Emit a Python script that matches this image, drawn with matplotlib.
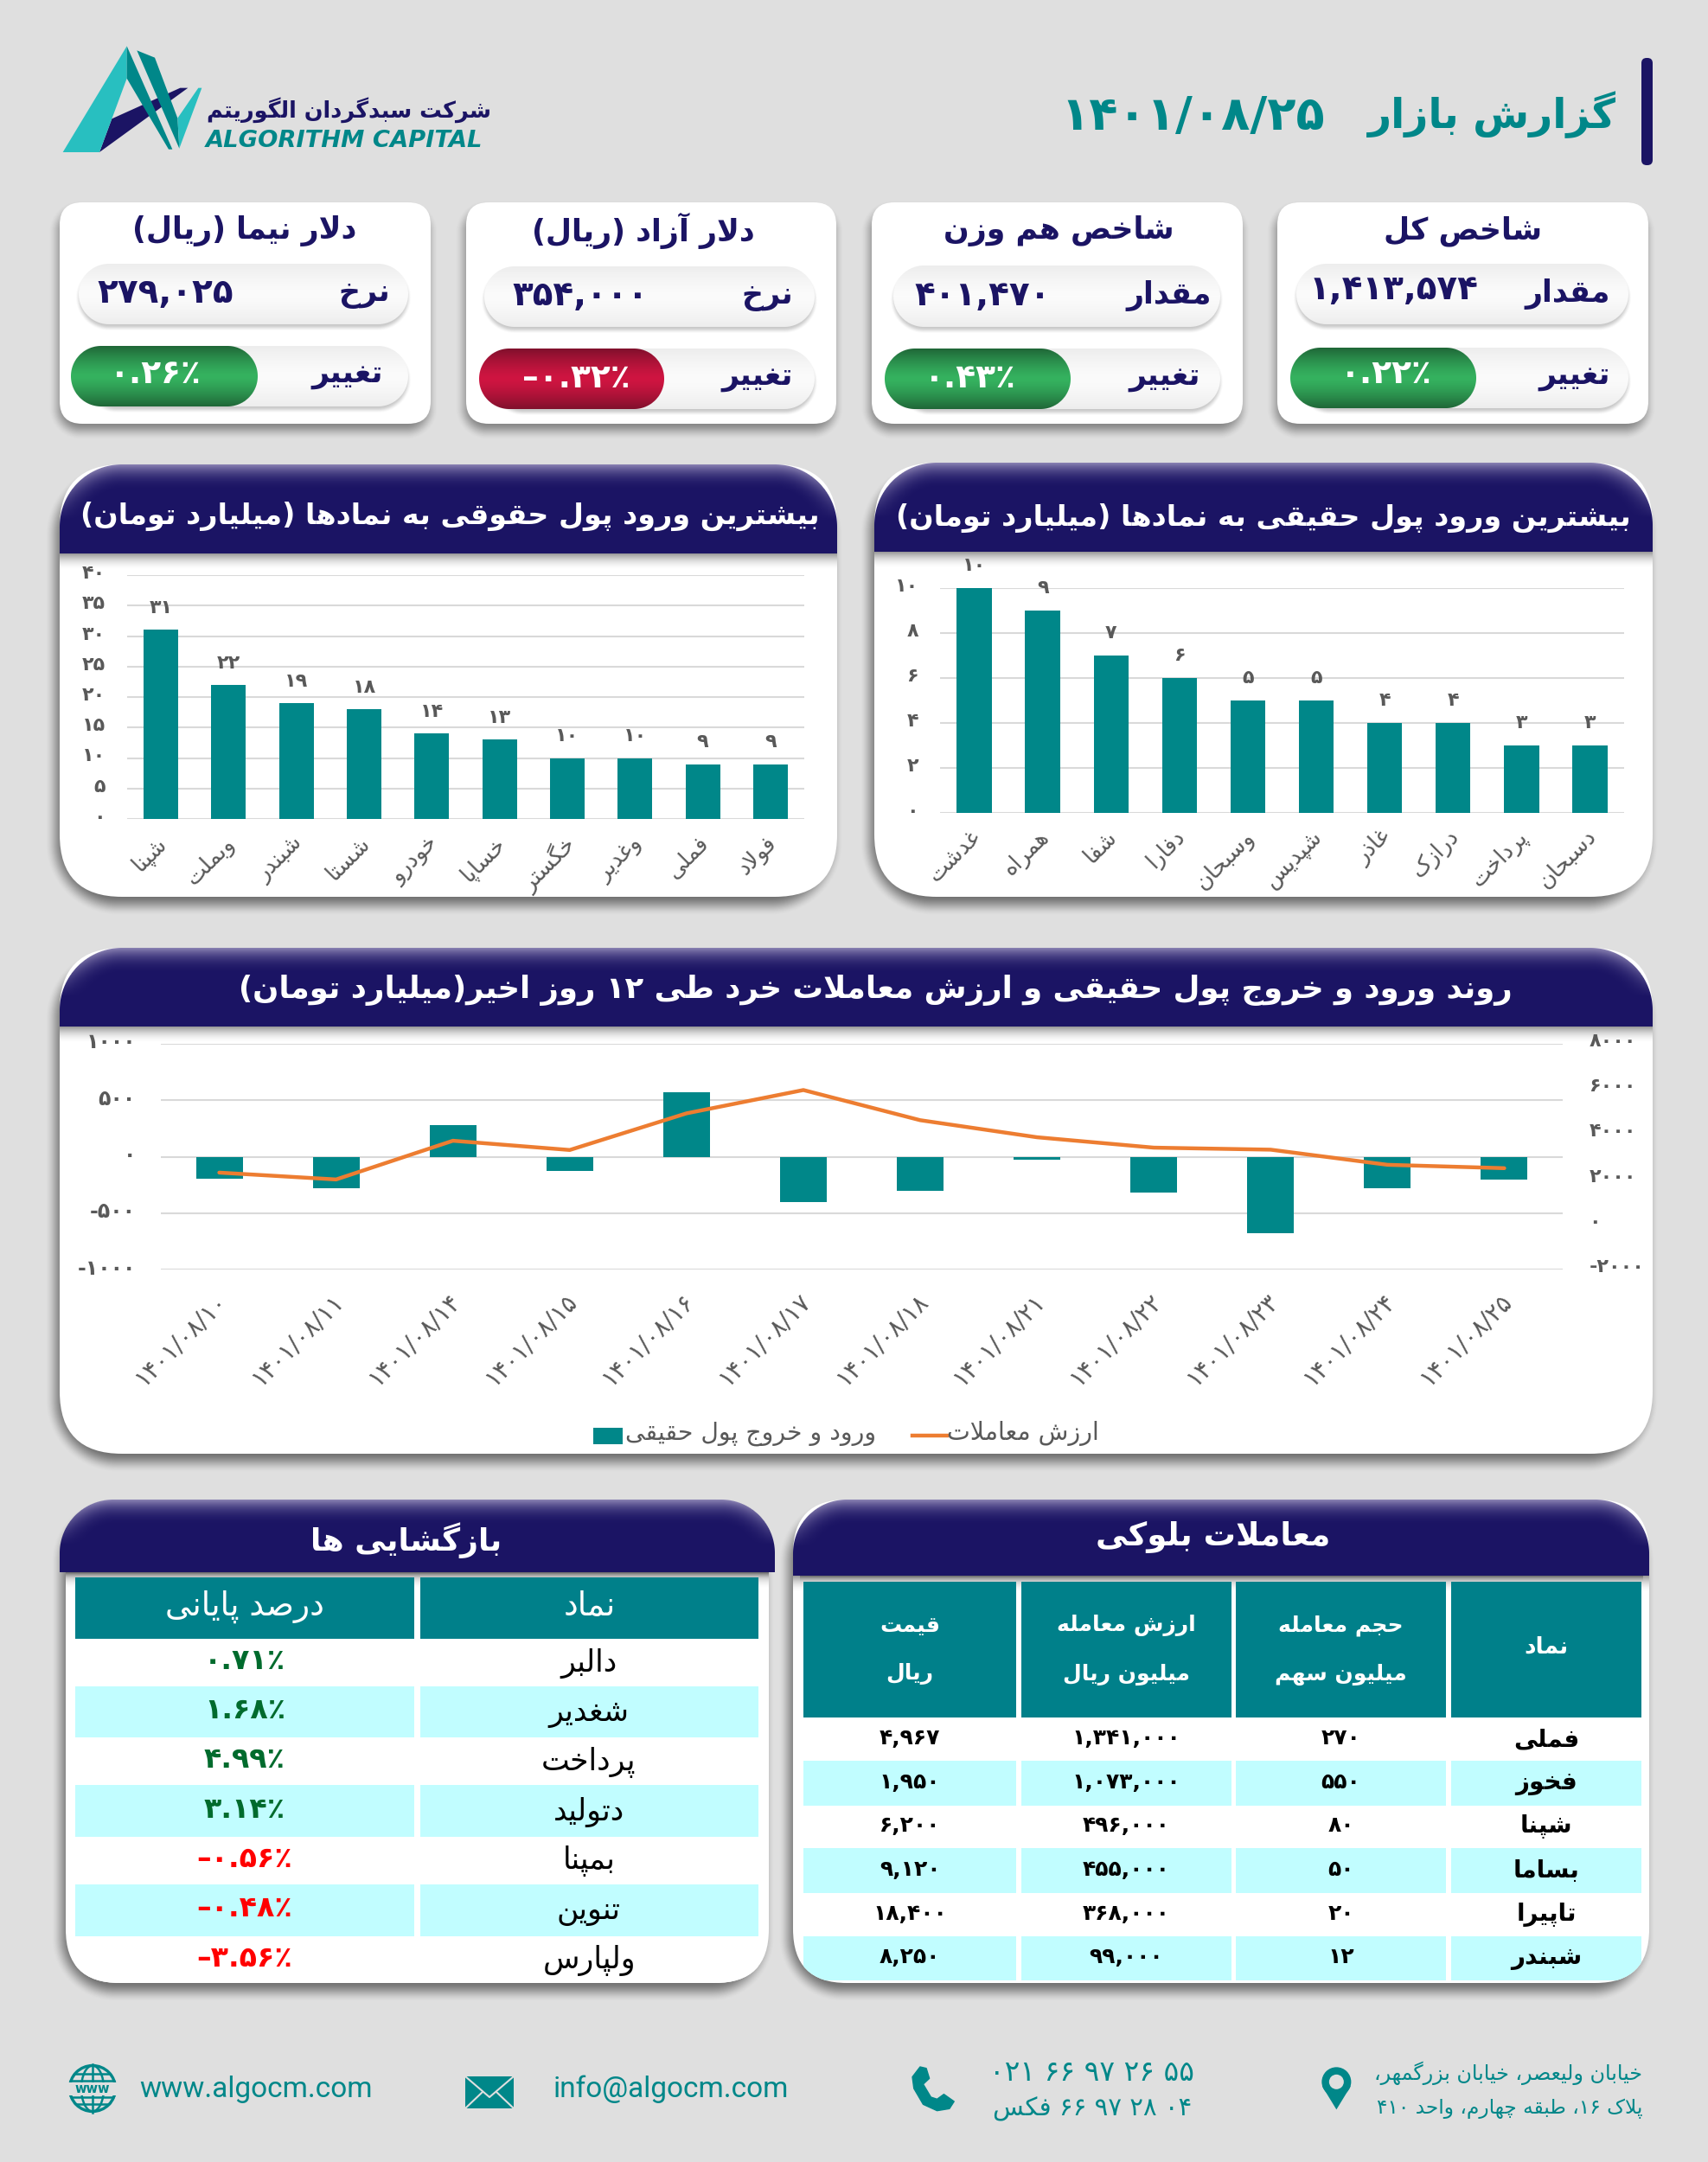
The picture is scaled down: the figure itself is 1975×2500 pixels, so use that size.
import re
import numpy as np
import matplotlib
matplotlib.use("Agg")
import matplotlib.pyplot as plt
from matplotlib.patches import FancyBboxPatch, Rectangle, Polygon, Circle, Ellipse
from matplotlib.textpath import TextPath
from matplotlib.font_manager import FontProperties
from matplotlib.transforms import ScaledTranslation
from matplotlib.colors import to_rgb
from matplotlib.ticker import FuncFormatter

plt.rcParams['font.family'] = 'DejaVu Sans'

# ---------- data ----------
report_title = 'گزارش بازار'
report_date = '۱۴۰۱/۰۸/۲۵'
company_fa = 'شرکت سبدگردان الگوریتم'
company_en = 'ALGORITHM CAPITAL'

card_titles = ['شاخص کل', 'شاخص هم وزن', 'دلار آزاد (ریال)', 'دلار نیما (ریال)']
card_labels = ['مقدار', 'مقدار', 'نرخ', 'نرخ']
card_values = [1413574, 401470, 354000, 279025]
card_changes = [0.22, 0.43, -0.32, 0.26]
change_label = 'تغییر'

real_title = 'بیشترین ورود پول حقیقی به نمادها (میلیارد تومان)'
real_syms = ['غدشت', 'همراه', 'شفا', 'دفارا', 'وسبحان', 'شپدیس', 'غاذر', 'درازک', 'پرداخت', 'دسبحان']
real_vals = [10, 9, 7, 6, 5, 5, 4, 4, 3, 3]

legal_title = 'بیشترین ورود پول حقوقی به نمادها (میلیارد تومان)'
legal_syms = ['شپنا', 'وبملت', 'شبندر', 'شستا', 'خودرو', 'خساپا', 'خگستر', 'وغدیر', 'فملی', 'فولاد']
legal_vals = [31, 22, 19, 18, 14, 13, 10, 10, 9, 9]

trend_title = 'روند ورود و خروج پول حقیقی و ارزش معاملات خرد طی ۱۲ روز اخیر(میلیارد تومان)'
trend_dates = ['۱۴۰۱/۰۸/۱۰', '۱۴۰۱/۰۸/۱۱', '۱۴۰۱/۰۸/۱۴', '۱۴۰۱/۰۸/۱۵', '۱۴۰۱/۰۸/۱۶', '۱۴۰۱/۰۸/۱۷',
               '۱۴۰۱/۰۸/۱۸', '۱۴۰۱/۰۸/۲۱', '۱۴۰۱/۰۸/۲۲', '۱۴۰۱/۰۸/۲۳', '۱۴۰۱/۰۸/۲۴', '۱۴۰۱/۰۸/۲۵']
trend_flow = [-192, -277, 277, -125, 570, -405, -299, -27, -320, -680, -277, -201]
trend_value = [2294, 1990, 3706, 3296, 4920, 5952, 4616, 3860, 3400, 3310, 2640, 2490]
legend_flow = 'ورود و خروج پول حقیقی'
legend_value = 'ارزش معاملات'

ret_title = 'بازگشایی ها'
ret_head = ['نماد', 'درصد پایانی']
ret_syms = ['دالبر', 'شغدیر', 'پرداخت', 'دتولید', 'بمپنا', 'تنوین', 'ولپارس']
ret_vals = [0.71, 1.68, 4.99, 3.14, -0.56, -0.48, -3.56]

blk_title = 'معاملات بلوکی'
blk_head = ['نماد', 'حجم معامله\nمیلیون سهم', 'ارزش معامله\nمیلیون ریال', 'قیمت\nریال']
blk_syms = ['فملی', 'فخوز', 'شپنا', 'بساما', 'تاپیرا', 'شبندر']
blk_vol = [270, 550, 80, 50, 20, 12]
blk_value = [1341000, 1073000, 496000, 455000, 368000, 99000]
blk_price = [4967, 1950, 6200, 9120, 18400, 8250]

addr_lines = ['خیابان ولیعصر، خیابان بزرگمهر،', 'پلاک ۱۶، طبقه چهارم، واحد ۴۱۰']
phone = '۰۲۱ ۶۶ ۹۷ ۲۶ ۵۵'
fax = '۶۶ ۹۷ ۲۸ ۰۴ فکس'
email = 'info@algocm.com'
website = 'www.algocm.com'

# ---------- colours ----------
BG = '#DFDFDF'; NAVY = '#1B1464'; TEAL = '#008789'; CYAN = '#C1FDFF'; GREY = '#595959'
TH = '#00808A'; ORANGE = '#ED7D31'; GRID = '#D9D9D9'

# ---------- Persian shaping ----------
_F = {'ا': (0xFE8D, 0xFE8E), 'آ': (0xFE81, 0xFE82), 'د': (0xFEA9, 0xFEAA), 'ذ': (0xFEAB, 0xFEAC),
      'ر': (0xFEAD, 0xFEAE), 'ز': (0xFEAF, 0xFEB0), 'ژ': (0xFB8A, 0xFB8B), 'و': (0xFEED, 0xFEEE)}
for ch, st in {'ب': 0xFE8F, 'ت': 0xFE95, 'ث': 0xFE99, 'ج': 0xFE9D, 'ح': 0xFEA1, 'خ': 0xFEA5, 'س': 0xFEB1,
               'ش': 0xFEB5, 'ص': 0xFEB9, 'ض': 0xFEBD, 'ط': 0xFEC1, 'ظ': 0xFEC5, 'ع': 0xFEC9, 'غ': 0xFECD,
               'ف': 0xFED1, 'ق': 0xFED5, 'ل': 0xFEDD, 'م': 0xFEE1, 'ن': 0xFEE5, 'ه': 0xFEE9,
               'پ': 0xFB56, 'چ': 0xFB7A, 'ک': 0xFB8E, 'گ': 0xFB92, 'ی': 0xFBFC}.items():
    _F[ch] = (st, st + 1, st + 2, st + 3)


def shape(s):
    s2 = []
    i = 0
    while i < len(s):
        if s[i] == 'ل' and i + 1 < len(s) and s[i + 1] in 'اآ':
            s2.append(s[i:i + 2]); i += 2
        else:
            s2.append(s[i]); i += 1
    out = []
    for k, c in enumerate(s2):
        key = c[0]
        if key not in _F:
            out.append(c); continue
        prev = s2[k - 1][0] if k else ''
        nxt = s2[k + 1][0] if k + 1 < len(s2) else ''
        pj = prev in _F and len(_F[prev]) == 4 and len(s2[k - 1]) == 1
        nj = nxt in _F
        if len(c) == 2:
            base = 0xFEFB if c[1] == 'ا' else 0xFEF5
            out.append(chr(base + (1 if pj else 0))); continue
        f = _F[key]
        if len(f) == 2:
            out.append(chr(f[1] if pj else f[0]))
        else:
            idx = 3 if pj and nj else 1 if pj else 2 if nj else 0
            out.append(chr(f[idx]))
    return ''.join(out)


_num = re.compile(r'([۰-۹0-9][۰-۹0-9,./ ٪%]*[۰-۹0-9٪%]|[۰-۹0-9])')
_mir = {'(': ')', ')': '('}


def fa(s):
    parts = _num.split(shape(s))
    res = []
    for p in reversed(parts):
        if _num.fullmatch(p):
            res.append(p)
        else:
            res.append(''.join(_mir.get(c, c) for c in reversed(p)))
    return ''.join(res)


_dig = str.maketrans('0123456789', '۰۱۲۳۴۵۶۷۸۹')


def pd(v):
    return str(v).translate(_dig)


def pct(v):
    t = f"{abs(v):.2f}".translate(_dig) + '٪'
    return ('–' + t) if v < 0 else t


def grp(v):
    return f"{v:,}".translate(_dig)


# ---------- canvas ----------
W, H = 1975, 2500
fig = plt.figure(figsize=(W / 100, H / 100), dpi=100, facecolor=BG)
bg = fig.add_axes([0, 0, 1, 1], zorder=0)
bg.set_xlim(0, W); bg.set_ylim(H, 0); bg.axis('off'); bg.set_autoscale_on(False)


def sdf(X, Y, x0, y0, x1, y1, r):
    qx = np.abs(X - (x0 + x1) / 2) - (x1 - x0) / 2 + r
    qy = np.abs(Y - (y0 + y1) / 2) - (y1 - y0) / 2 + r
    return np.hypot(np.maximum(qx, 0), np.maximum(qy, 0)) + np.minimum(np.maximum(qx, qy), 0) - r


def grid(x0, y0, x1, y1):
    x0, y0, x1, y1 = int(x0), int(y0), int(x1), int(y1)
    X, Y = np.meshgrid(np.arange(x0, x1) + .5, np.arange(y0, y1) + .5)
    return X, Y, (x0, x1, y1, y0)


def shadow(x0, y0, x1, y1, r, dx=-4, dy=10, blur=20, a=.5, z=1):
    X, Y, ext = grid(x0 - 40, y0 - 20, x1 + 40, y1 + 50)
    d = sdf(X, Y, x0 + dx, y0 + dy, x1 + dx, y1 + dy, r)
    t = np.clip(.5 - d / blur, 0, 1)
    al = a * t * t * (3 - 2 * t)
    img = np.zeros(X.shape + (4,)); img[..., 3] = al
    bg.imshow(img, extent=ext, aspect='auto', zorder=z, interpolation='nearest')


def rr(x0, y0, x1, y1, r, z=2, **kw):
    p = FancyBboxPatch((x0, y0), x1 - x0, y1 - y0, boxstyle=f"round,pad=0,rounding_size={r}",
                       linewidth=0, zorder=z, **kw)
    bg.add_patch(p)
    return p


def header(x0, y0, x1, y1, r, z=4):
    X, Y, ext = grid(x0, y0, x1, y1)
    d = sdf(X, Y, x0, y0, x1, y1 + 3 * r, r)
    t = np.clip(1 + d / 30, 0, 1) ** 1.8
    t *= np.clip(1 - (Y - y0) / (.62 * (y1 - y0)), 0, 1)
    navy = np.array(to_rgb(NAVY)); lav = np.array(to_rgb('#8C84B4'))
    img = np.zeros(X.shape + (4,))
    img[..., :3] = navy + (lav - navy) * t[..., None]
    img[..., 3] = np.clip(.5 - d, 0, 1)
    bg.imshow(img, extent=ext, aspect='auto', zorder=z, interpolation='nearest')


def under(x0, y, x1, h=20, a=.42, z=3):
    X, Y, ext = grid(x0, y, x1, y + h)
    img = np.zeros(X.shape + (4,))
    img[..., 3] = a * (1 - (Y - y) / h) ** 2
    bg.imshow(img, extent=ext, aspect='auto', zorder=z, interpolation='nearest')


def pill(x0, y0, x1, y1, top, mid, z=5, sh=True):
    if sh:
        shadow(x0, y0, x1, y1, (y1 - y0) / 2, dx=0, dy=4, blur=8, a=.22, z=z - .5)
    X, Y, ext = grid(x0, y0, x1, y1)
    d = sdf(X, Y, x0, y0, x1, y1, (y1 - y0) / 2)
    u = np.abs((Y - y0) / (y1 - y0) - .5) * 2
    a, b = np.array(to_rgb(top)), np.array(to_rgb(mid))
    img = np.zeros(X.shape + (4,))
    img[..., :3] = b + (a - b) * (u[..., None] ** 1.4)
    img[..., 3] = np.clip(.5 - d, 0, 1)
    bg.imshow(img, extent=ext, aspect='auto', zorder=z, interpolation='nearest')


def T(x, y, s, w=None, size=20, color='k', ha='center', weight='normal', z=8, shaped=True, **kw):
    txt = fa(s) if shaped else s
    if w is not None:
        fp = FontProperties(family='DejaVu Sans', weight=weight, style=kw.get('style', 'normal'))
        tw = TextPath((0, 0), txt, size=100, prop=fp).get_extents().width
        size = 100 * w * .72 / tw
    return bg.text(x, y, txt, fontsize=size, color=color, ha=ha, va='center', fontweight=weight, zorder=z, **kw)


# ---------- top header ----------
rr(1898, 67, 1911, 191, 6, z=3, facecolor=NAVY)
T(1725.5, 133, report_title, w=289, color=TEAL, weight='bold')
T(1379, 135, report_date, w=296, color=TEAL, weight='bold', shaped=False)

# logo (3x crop coordinates of the mark)
def L(pts):
    return [(60 + a / 3, 40 + b / 3) for a, b in pts]
bg.add_patch(Polygon(L([(165, 408), (208, 292), (445, 185), (472, 185)]), fc=NAVY, lw=0, zorder=3))
bg.add_patch(Polygon(L([(38, 408), (260, 40), (260, 152), (165, 408)]), fc='#28BFC0', lw=0, zorder=4))
bg.add_patch(Polygon(L([(260, 40), (418, 398), (405, 398), (260, 152)]), fc=TEAL, lw=0, zorder=4))
bg.add_patch(Polygon(L([(295, 55), (357, 80), (436, 290), (442, 395)]), fc=TEAL, lw=0, zorder=4))
bg.add_patch(Polygon(L([(436, 290), (508, 185), (520, 185), (442, 395)]), fc='#28BFC0', lw=0, zorder=4))
T(60 + 1030 / 3, 40 + 262 / 3, company_fa, w=325, color=NAVY, weight='bold')
T(60 + 1015 / 3, 40 + 370 / 3, company_en, w=320, color=TEAL, weight='bold', style='italic', shaped=False)

# ---------- cards ----------
cards_x = [(1477, 1906), (1008, 1437), (539, 967), (69, 498)]
pill1 = [(1499, 305, 1883, 375), (1033, 307, 1411, 378), (560, 308, 942, 378), (91, 305, 472, 375)]
pill2 = [(1503, 402, 1883, 472), (1040, 403, 1411, 473), (570, 403, 942, 473), (100, 400, 472, 470)]
colp = [(1492, 402, 1707, 472), (1023, 403, 1238, 473), (554, 403, 768, 473), (82, 400, 298, 470)]
title_cx = [1692, 1224, 744, 283]
value_cx = [(1612, 335), (1136, 342), (671, 342), (191, 339)]
pct_c = [(1603, 433), (1122, 438), (666, 438), (180, 433)]
lab_r = [1862, 1401, 917, 451]
chg_r = [1862, 1388, 917, 443]
for i in range(4):
    x0, x1 = cards_x[i]
    shadow(x0, 234, x1, 490, 26, dx=-2, dy=8, blur=22, a=.42)
    rr(x0, 234, x1, 490, 26, facecolor='white')
    T(title_cx[i], 267, card_titles[i], size=25, color=NAVY, weight='bold')
    pill(*pill1[i], '#EDEDED', '#FBFBFB')
    pill(*pill2[i], '#EDEDED', '#FBFBFB')
    if card_changes[i] >= 0:
        pill(*colp[i], '#1F6637', '#35B25F', z=6, sh=False)
    else:
        pill(*colp[i], '#80102C', '#CF1541', z=6, sh=False)
    T(lab_r[i], pill1[i][1] + 35, card_labels[i], size=25, color=NAVY, ha='right', weight='bold')
    T(chg_r[i], pill2[i][1] + 33, change_label, size=25, color=NAVY, ha='right', weight='bold')
    T(value_cx[i][0], value_cx[i][1], grp(card_values[i]), size=28, color=NAVY, weight='bold', shaped=False)
    T(pct_c[i][0], pct_c[i][1], pct(card_changes[i]), size=27, color='white', weight='bold', shaped=False)


# ---------- chart helpers ----------
def panel(x0, y0, x1, y1, hb, r, title, cx, cy, tw, inset=0):
    shadow(x0 + inset, y0, x1 - inset, y1, r, dx=-5, dy=10, blur=24, a=.5)
    p = rr(x0 + inset, y0, x1 - inset, y1, r, facecolor='white')
    under(x0 + inset, hb, x1 - inset)
    header(x0, y0, x1, hb, r)
    T(cx, cy, title, w=tw, color='white', weight='bold', z=9)
    return p


def px_axes(x0, ytop, x1, ybot, z=2):
    return fig.add_axes([x0 / W, 1 - ybot / H, (x1 - x0) / W, (ybot - ytop) / H], zorder=z, facecolor='none')


def shift(labels, dx=0, dy=4):
    off = ScaledTranslation(dx / 100, dy / 100, fig.dpi_scale_trans)
    for lb in labels:
        lb.set_transform(lb.get_transform() + off)


def barchart(box, syms, vals, ymax, step, pad_left):
    ax = px_axes(*box)
    n = len(vals)
    bars = ax.bar(np.arange(n), vals, width=.51, color=TEAL, zorder=3)
    ax.set_xlim(-.5, n - .5); ax.set_ylim(0, ymax)
    ax.set_yticks(np.arange(0, ymax + 1, step))
    ax.yaxis.set_major_formatter(FuncFormatter(lambda v, _: pd(int(v))))
    ax.set_xticks(np.arange(n))
    ax.set_xticklabels([fa(s) for s in syms], rotation=45, ha='right', va='top', rotation_mode='anchor',
                       fontsize=18.5, color=GREY)
    ax.tick_params(axis='x', length=0, pad=11)
    ax.tick_params(axis='y', length=0, pad=pad_left, labelsize=16, labelcolor=GREY)
    for lb in ax.get_yticklabels():
        lb.set_fontweight('bold')
    shift(ax.get_yticklabels())
    shift(ax.get_xticklabels(), dx=-6, dy=0)
    ax.grid(axis='y', color=GRID, lw=1.5)
    ax.set_axisbelow(True)
    for sp in ax.spines.values():
        sp.set_visible(False)
    ax.bar_label(bars, labels=[pd(v) for v in vals], padding=11, fontsize=16, color=GREY, fontweight='bold')
    return ax


# right bar chart (real money)
panel(1011, 535, 1911, 1037, 638, 72, real_title, 1461, 599, 842)
barchart((1087, 679.5, 1878, 939.5), real_syms, real_vals, 10, 2, 18)
# left bar chart (legal money)
panel(69, 537, 968, 1037, 640, 72, legal_title, 520, 597, 848)
barchart((147, 665, 930, 947), legal_syms, legal_vals, 40, 5, 18)

# ---------- trend ----------
panel(69, 1096, 1911, 1681, 1187, 72, trend_title, 1012, 1145, 1466)
ax = px_axes(186, 1207, 1807, 1468)
xs = np.arange(len(trend_flow))
ax.bar(xs, trend_flow, width=.4, color=TEAL, zorder=3)
ax.set_xlim(-.5, len(xs) - .5); ax.set_ylim(-1000, 1000)
ax.set_yticks([-1000, -500, 0, 500, 1000])
ax.yaxis.set_major_formatter(FuncFormatter(lambda v, _: ('-' + pd(int(-v))) if v < 0 else pd(int(v))))
ax.set_xticks(xs)
ax.set_xticklabels(trend_dates, rotation=45, ha='right', va='top', rotation_mode='anchor', fontsize=20, color=GREY)
ax.tick_params(axis='x', length=0, pad=16)
ax.tick_params(axis='y', length=0, pad=21, labelsize=17, labelcolor=GREY)
ax.grid(axis='y', color=GRID, lw=1.5)
ax.set_axisbelow(True)
for lb in ax.get_yticklabels():
    lb.set_fontweight('bold')
shift(ax.get_yticklabels())
shift(ax.get_xticklabels(), dx=-6, dy=0)
ax2 = ax.twinx()
ax2.set_zorder(3); ax2.patch.set_visible(False)
ax2.plot(xs, trend_value, color=ORANGE, lw=3.2, solid_capstyle='round', solid_joinstyle='round')
ax2.set_ylim(-2000, 8000)
ax2.set_yticks([-2000, 0, 2000, 4000, 6000, 8000])
ax2.yaxis.set_major_formatter(FuncFormatter(lambda v, _: ('-' + pd(int(-v))) if v < 0 else pd(int(v))))
ax2.tick_params(axis='y', length=0, pad=22, labelsize=16, labelcolor=GREY)
for lb in ax2.get_yticklabels():
    lb.set_fontweight('bold')
shift(ax2.get_yticklabels(), dy=5)
for a_ in (ax, ax2):
    for sp in a_.spines.values():
        sp.set_visible(False)
# legend
bg.add_patch(Rectangle((686, 1651), 34, 19, fc=TEAL, lw=0, zorder=8))
T(868, 1658, legend_flow, w=285, color=GREY)
bg.plot([1055, 1094.5], [1660, 1660], color=ORANGE, lw=3.2, zorder=8)
T(1183, 1658, legend_value, w=172, color=GREY)

# ---------- returns table ----------
p = panel(69, 1734, 896, 2293, 1818, 62, ret_title, 470, 1781, 215, inset=7)
colsL = [(486, 877), (87, 479)]
rowsL = [1895, 1950, 2009, 2064, 2124, 2179, 2239, 2293]
under(76, 1818, 889, h=8, a=.32, z=4)
for c, (a_, b_) in enumerate(colsL):
    bg.add_patch(Rectangle((a_, 1824), b_ - a_, 1895 - 1824, fc=TH, lw=0, zorder=5))
    T((a_ + b_) / 2, 1858, ret_head[c], size=27, color='white')
    for i in range(len(ret_syms)):
        r_ = Rectangle((a_, rowsL[i]), b_ - a_, rowsL[i + 1] - rowsL[i], fc=('white' if i % 2 == 0 else CYAN),
                       lw=0, zorder=5)
        bg.add_patch(r_); r_.set_clip_path(p)
for i, (s, v) in enumerate(zip(ret_syms, ret_vals)):
    cy = (rowsL[i] + rowsL[i + 1]) / 2
    T(681, cy + 1, s, size=25, color='black')
    T(283, cy - 2, pct(v), size=24, color=('#006B2D' if v >= 0 else '#FF0000'), weight='bold', shaped=False)

# ---------- block table ----------
p = panel(917, 1734, 1907, 2293, 1822, 62, blk_title, 1403, 1777, 266)
under(925, 1822, 1900, h=8, a=.32, z=4)
colsB = [(1678, 1898), (1429, 1672), (1181, 1424), (929, 1175)]
rowsB = [1986, 2036, 2088, 2137, 2189, 2239, 2290]
blk_cols = [blk_syms, [pd(v) for v in blk_vol], [grp(v) for v in blk_value], [grp(v) for v in blk_price]]
for c, (a_, b_) in enumerate(colsB):
    bg.add_patch(Rectangle((a_, 1829), b_ - a_, 1986 - 1829, fc=TH, lw=0, zorder=5))
    lines = blk_head[c].split('\n')
    cx = (a_ + b_) / 2
    if len(lines) == 1:
        T(cx, 1905, lines[0], size=19, color='white', weight='bold')
    else:
        T(cx, 1880, lines[0], size=18, color='white', weight='bold')
        T(cx, 1936, lines[1], size=18, color='white', weight='bold')
    for i in range(6):
        r_ = Rectangle((a_, rowsB[i]), b_ - a_, rowsB[i + 1] - rowsB[i], fc=('white' if i % 2 == 0 else CYAN),
                       lw=0, zorder=5)
        bg.add_patch(r_); r_.set_clip_path(p)
        cy = (rowsB[i] + rowsB[i + 1]) / 2
        if c == 0:
            T(cx, cy, blk_cols[c][i], size=20, color='black', weight='bold')
        else:
            T(cx, cy - 1, blk_cols[c][i], size=18, color='black', weight='bold', shaped=False)

# ---------- footer ----------
T(1899, 2397, addr_lines[0], w=306, color=TEAL, ha='right')
T(1899, 2438, addr_lines[1], w=306, color=TEAL, ha='right')
T(1263, 2396, phone, w=227, color=TEAL, shaped=False)
T(1263, 2439, fax, w=227, color=TEAL)
bg.text(640, 2416, email, fontsize=24, family='Roboto', color=TEAL, va='center', ha='left', zorder=8)
bg.text(161, 2416, website, fontsize=24, family='Roboto', color=TEAL, va='center', ha='left', zorder=8)

# globe
gx, gy, gr = 107, 2415, 28
clipc = Circle((gx, gy), gr, transform=bg.transData)
bg.add_patch(Circle((gx, gy), gr - 1.5, fc='none', ec=TEAL, lw=2.4, zorder=5))
bg.add_patch(Ellipse((gx, gy), 26, 2 * gr - 3, fc='none', ec=TEAL, lw=1.8, zorder=5))
bg.plot([gx, gx], [gy - gr, gy + gr], color=TEAL, lw=1.8, zorder=5)
for dy in (-17, -9, 10, 18):
    bg.plot([gx - gr, gx + gr], [gy + dy, gy + dy], color=TEAL, lw=1.8, zorder=5)[0].set_clip_path(clipc)
bg.add_patch(Rectangle((gx - gr - 1, gy - 7), 2 * gr + 2, 15, fc=BG, lw=0, zorder=6))
bg.text(gx, gy + .5, 'www', fontsize=10.5, color=TEAL, weight='bold', ha='center', va='center', zorder=7)

# envelope
bg.add_patch(Rectangle((538, 2401), 56, 37, fc=TEAL, lw=0, zorder=5))
bg.plot([538, 566, 594], [2401, 2425, 2401], color=BG, lw=1.5, zorder=6)
bg.plot([538, 558], [2438, 2419], color=BG, lw=1.5, zorder=6)
bg.plot([594, 574], [2438, 2419], color=BG, lw=1.5, zorder=6)

# phone (crop was magnified 2.8x across, 3x down)
def Q(pts):
    return [(1030 + a / 2.8, 2370 + b / 3) for a, b in pts]
bg.add_patch(Polygon(Q([(95, 60), (115, 65), (125, 100), (105, 120), (130, 165), (150, 172), (172, 155),
                        (205, 180), (190, 205), (150, 212), (105, 190), (75, 135), (70, 95)]),
                     fc=TEAL, ec=TEAL, lw=1, joinstyle='round', zorder=5))
# pin
pxc, pyc = 1030 + 1443 / 2.8, 2370 + 112 / 3
bg.add_patch(Circle((pxc, pyc), 17, fc=TEAL, lw=0, zorder=5))
bg.add_patch(Polygon([(pxc - 16.5, pyc + 5), (pxc + 16.5, pyc + 5), (pxc, pyc + 32)], fc=TEAL, lw=0, zorder=5))
bg.add_patch(Circle((pxc, pyc), 8.5, fc=BG, lw=0, zorder=6))

fig.savefig('out.png', dpi=100, facecolor=BG)
